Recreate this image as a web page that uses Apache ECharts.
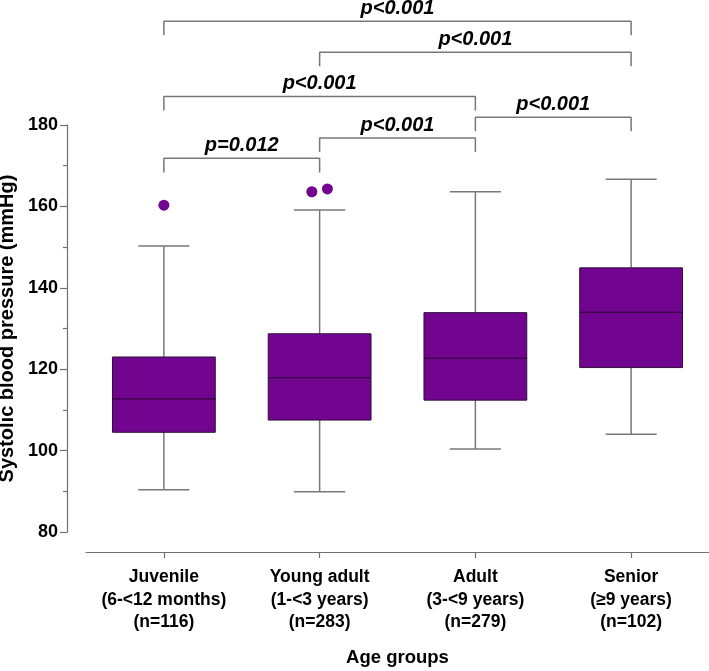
<!DOCTYPE html>
<html>
<head>
<meta charset="utf-8">
<title>Systolic blood pressure by age group</title>
<script src="https://cdn.jsdelivr.net/npm/echarts@6/dist/echarts.min.js"></script>
<style>
  html, body { margin: 0; padding: 0; background: #fff; }
  #chart { width: 709px; height: 671px; }
</style>
</head>
<body>
<div id="chart"></div>
<script>
// age groups (x axis, three-line labels)
const groups = [
  'Juvenile\n(6-<12 months)\n(n=116)',
  'Young adult\n(1-<3 years)\n(n=283)',
  'Adult\n(3-<9 years)\n(n=279)',
  'Senior\n(≥9 years)\n(n=102)'
];

// box plot values per group (mmHg)
const lowWhisker = [90.4, 89.9, 100.4, 104.0];
const q1 = [104.5, 107.5, 112.4, 120.4];
const median = [112.7, 117.9, 122.7, 134.0];
const q3 = [123.0, 128.7, 133.9, 144.9];
const highWhisker = [150.3, 159.1, 163.6, 166.7];

// outliers: group position (small horizontal jitter) and value
const outlierX = [0, 0.95, 1.05];
const outlierY = [160.3, 163.6, 164.3];

// pairwise comparisons: groups joined, bracket height, p text
const pairFrom = [0, 1, 0, 2, 1, 0];
const pairTo = [3, 3, 2, 3, 2, 1];
const pairTop = [205.5, 197.9, 187.0, 181.9, 176.8, 171.8];
const pairText = ['p<0.001', 'p<0.001', 'p<0.001', 'p<0.001', 'p<0.001', 'p=0.012'];
const bracketDrop = 3.45;

// y axis range
const yMin = 80, yMax = 180, yStep = 20;

const font = '"Liberation Sans", Arial, sans-serif';
const purple = '#710590';
const grey = '#787878';

const chart = echarts.init(document.getElementById('chart'));

function renderBox(params, api) {
  const i = api.value(0);
  const band = api.size([1, 0])[0];
  const boxHalf = band * 0.33;
  const capHalf = band * 0.164;
  const lo = api.coord([i, api.value(1)]);
  const b1 = api.coord([i, api.value(2)]);
  const md = api.coord([i, api.value(3)]);
  const b3 = api.coord([i, api.value(4)]);
  const hi = api.coord([i, api.value(5)]);
  const x = lo[0];
  const whisker = { stroke: grey, lineWidth: 1.5 };
  return {
    type: 'group',
    children: [
      { type: 'line', shape: { x1: x, y1: lo[1], x2: x, y2: b1[1] }, style: whisker },
      { type: 'line', shape: { x1: x, y1: b3[1], x2: x, y2: hi[1] }, style: whisker },
      { type: 'line', shape: { x1: x - capHalf, y1: lo[1], x2: x + capHalf, y2: lo[1] }, style: whisker },
      { type: 'line', shape: { x1: x - capHalf, y1: hi[1], x2: x + capHalf, y2: hi[1] }, style: whisker },
      {
        type: 'rect',
        shape: { x: x - boxHalf, y: b3[1], width: boxHalf * 2, height: b1[1] - b3[1] },
        style: { fill: purple, stroke: '#2e1038', lineWidth: 1 }
      },
      { type: 'line', shape: { x1: x - boxHalf, y1: md[1], x2: x + boxHalf, y2: md[1] }, style: { stroke: '#25082d', lineWidth: 1 } }
    ]
  };
}

const series = [];

series.push({
  type: 'custom',
  renderItem: renderBox,
  data: groups.map((g, i) => [i, lowWhisker[i], q1[i], median[i], q3[i], highWhisker[i]]),
  encode: { x: 0, y: [1, 2, 3, 4, 5] },
  silent: true
});

series.push({
  type: 'scatter',
  xAxisIndex: 1,
  data: outlierX.map((x, i) => [x, outlierY[i]]),
  symbolSize: 11,
  itemStyle: { color: purple, opacity: 1 },
  silent: true,
  clip: false
});

// brackets
pairFrom.forEach((a, k) => {
  const b = pairTo[k];
  const top = pairTop[k];
  series.push({
    type: 'line',
    xAxisIndex: 1,
    data: [[a, top - bracketDrop], [a, top], [b, top], [b, top - bracketDrop]],
    symbol: 'none',
    clip: false,
    silent: true,
    lineStyle: { color: grey, width: 1.5 }
  });
});

// p value labels
series.push({
  type: 'scatter',
  xAxisIndex: 1,
  symbolSize: 0,
  clip: false,
  silent: true,
  itemStyle: { opacity: 1 },
  data: pairFrom.map((a, k) => ({ value: [(a + pairTo[k]) / 2, pairTop[k]], name: pairText[k] })),
  label: {
    show: true,
    position: 'top',
    distance: 3,
    formatter: p => p.name,
    fontFamily: font,
    fontWeight: 'bold',
    fontStyle: 'italic',
    fontSize: 20,
    color: '#000',
    opacity: 1
  }
});

chart.setOption({
  animation: false,
  backgroundColor: '#fff',
  grid: { left: 86, right: 0, top: 125, bottom: 139, containLabel: false, outerBoundsMode: 'none' },
  xAxis: [{
    type: 'category',
    data: groups,
    position: 'bottom',
    offset: 20,
    name: 'Age groups',
    nameLocation: 'middle',
    nameGap: 96,
    nameTextStyle: { fontFamily: font, fontWeight: 'bold', fontSize: 18.5, color: '#000' },
    axisLine: { show: true, onZero: false, lineStyle: { color: '#707070', width: 1.2 } },
    axisTick: { show: true, alignWithLabel: true, length: 6, lineStyle: { color: '#707070', width: 1.2 } },
    axisLabel: { interval: 0, fontFamily: font, fontWeight: 'bold', fontSize: 17.5, color: '#000', lineHeight: 22.5, margin: 14 },
    splitLine: { show: false }
  }, {
    type: 'value',
    min: -0.5,
    max: 3.5,
    show: false
  }],
  yAxis: {
    type: 'value',
    min: yMin,
    max: yMax,
    interval: yStep,
    offset: 19,
    name: 'Systolic blood pressure (mmHg)',
    nameLocation: 'middle',
    nameRotate: 90,
    nameGap: 45,
    nameTextStyle: { fontFamily: font, fontWeight: 'bold', fontSize: 20, color: '#000' },
    axisLine: { show: true, onZero: false, lineStyle: { color: '#707070', width: 1.2 } },
    axisTick: { show: true, length: 7, lineStyle: { color: '#707070', width: 1.2 } },
    minorTick: { show: true, splitNumber: 2, length: 4, lineStyle: { color: '#707070', width: 1.2 } },
    splitLine: { show: false },
    minorSplitLine: { show: false },
    axisLabel: { fontFamily: font, fontWeight: 'bold', fontSize: 18, color: '#000', margin: 9 }
  },
  series: series
});
</script>
</body>
</html>
